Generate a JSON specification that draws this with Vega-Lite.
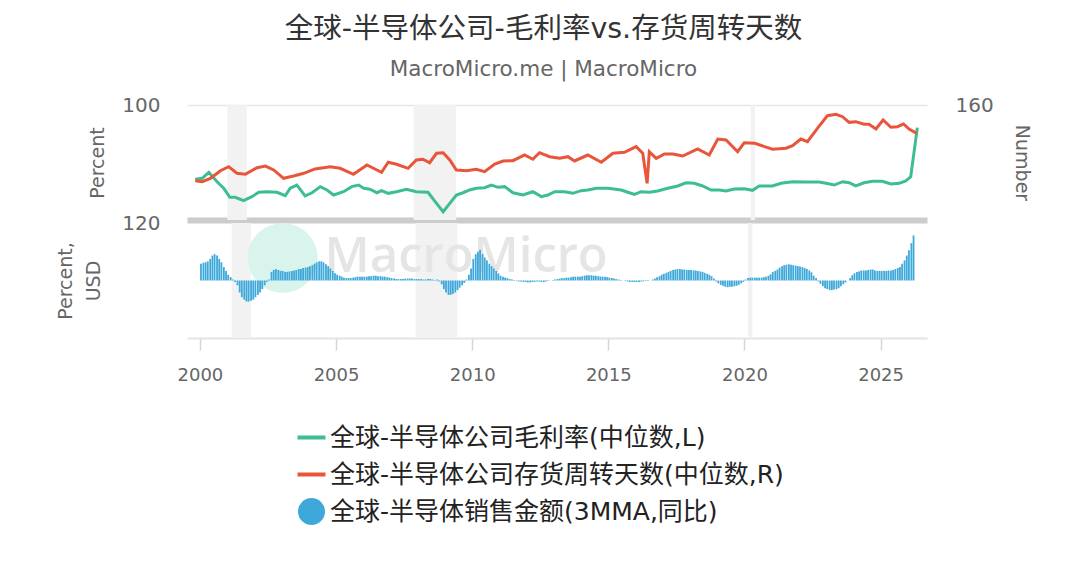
{
  "$schema": "https://vega.github.io/schema/vega-lite/v6.json",
  "background": "white",
  "padding": {"left": 56, "top": 15, "right": 10, "bottom": 10},
  "bounds": "flush",
  "spacing": 3,
  "title": {
    "text": "全球-半导体公司-毛利率vs.存货周转天数",
    "subtitle": "MacroMicro.me | MacroMicro",
    "anchor": "middle",
    "frame": "bounds",
    "font": "DejaVu Sans, Noto Sans CJK SC",
    "fontSize": 28.5,
    "fontWeight": "normal",
    "color": "#333333",
    "subtitleFont": "DejaVu Sans, Noto Sans CJK SC",
    "subtitleFontSize": 21.5,
    "subtitleColor": "#666666",
    "subtitlePadding": 15,
    "offset": 15
  },
  "datasets": {
    "rec": [
      {"t": 2001.17, "t2": 2001.88},
      {"t": 2007.92, "t2": 2009.46},
      {"t": 2020.13, "t2": 2020.29}
    ],
    "gm": [
      {"t":2000.01,"v":35.4},{"t":2000.26,"v":36.3},{"t":2000.50,"v":41.5},{"t":2000.80,"v":33.3},{"t":2001.04,"v":27.6},{"t":2001.26,"v":19.7},{"t":2001.46,"v":19.7},{"t":2001.76,"v":16.8},{"t":2002.06,"v":20.3},{"t":2002.31,"v":24.1},{"t":2002.61,"v":24.6},{"t":2002.97,"v":24.1},{"t":2003.27,"v":21.1},{"t":2003.45,"v":27.6},{"t":2003.69,"v":30.4},{"t":2003.99,"v":20.9},{"t":2004.24,"v":23.7},{"t":2004.54,"v":29.0},{"t":2004.78,"v":26.1},{"t":2005.02,"v":21.7},{"t":2005.38,"v":24.6},{"t":2005.68,"v":29.0},{"t":2005.93,"v":30.4},{"t":2006.11,"v":27.6},{"t":2006.34,"v":26.8},{"t":2006.59,"v":23.7},{"t":2006.76,"v":25.5},{"t":2007.00,"v":23.2},{"t":2007.30,"v":24.6},{"t":2007.66,"v":26.7},{"t":2008.02,"v":24.6},{"t":2008.44,"v":24.1},{"t":2008.75,"v":14.5},{"t":2008.99,"v":7.2},{"t":2009.23,"v":14.5},{"t":2009.47,"v":21.7},{"t":2009.71,"v":23.7},{"t":2009.95,"v":26.1},{"t":2010.19,"v":27.6},{"t":2010.49,"v":28.1},{"t":2010.74,"v":30.4},{"t":2010.98,"v":28.4},{"t":2011.22,"v":29.0},{"t":2011.52,"v":23.7},{"t":2011.88,"v":21.7},{"t":2012.24,"v":24.6},{"t":2012.55,"v":20.3},{"t":2012.78,"v":21.7},{"t":2013.03,"v":24.6},{"t":2013.39,"v":24.6},{"t":2013.69,"v":23.2},{"t":2013.99,"v":25.5},{"t":2014.23,"v":26.1},{"t":2014.54,"v":27.6},{"t":2014.96,"v":27.6},{"t":2015.44,"v":26.1},{"t":2015.74,"v":23.7},{"t":2015.92,"v":22.3},{"t":2016.16,"v":24.6},{"t":2016.46,"v":24.1},{"t":2016.76,"v":25.2},{"t":2017.13,"v":27.6},{"t":2017.49,"v":29.6},{"t":2017.79,"v":32.4},{"t":2018.09,"v":31.9},{"t":2018.39,"v":29.6},{"t":2018.70,"v":26.1},{"t":2019.00,"v":26.1},{"t":2019.24,"v":25.2},{"t":2019.54,"v":27.0},{"t":2019.90,"v":27.2},{"t":2020.20,"v":25.8},{"t":2020.44,"v":29.6},{"t":2020.92,"v":29.6},{"t":2021.23,"v":31.9},{"t":2021.65,"v":33.3},{"t":2022.13,"v":33.0},{"t":2022.61,"v":33.0},{"t":2022.86,"v":31.9},{"t":2023.16,"v":30.4},{"t":2023.46,"v":33.3},{"t":2023.70,"v":32.4},{"t":2023.94,"v":29.6},{"t":2024.24,"v":32.4},{"t":2024.54,"v":33.7},{"t":2024.90,"v":33.7},{"t":2025.21,"v":31.3},{"t":2025.51,"v":31.9},{"t":2025.75,"v":33.9},{"t":2025.93,"v":37.7},{"t":2026.17,"v":80.3}
    ],
    "inv": [
      {"t":2000.01,"v":54.7},{"t":2000.26,"v":53.3},{"t":2000.56,"v":58.0},{"t":2000.92,"v":68.6},{"t":2001.22,"v":74.2},{"t":2001.52,"v":65.0},{"t":2001.82,"v":63.6},{"t":2002.25,"v":72.8},{"t":2002.55,"v":75.1},{"t":2002.85,"v":69.6},{"t":2003.21,"v":58.0},{"t":2003.57,"v":61.2},{"t":2003.94,"v":65.0},{"t":2004.35,"v":71.0},{"t":2004.90,"v":74.2},{"t":2005.26,"v":71.9},{"t":2005.74,"v":63.6},{"t":2006.23,"v":76.5},{"t":2006.59,"v":69.6},{"t":2006.76,"v":66.4},{"t":2007.00,"v":80.3},{"t":2007.30,"v":77.5},{"t":2007.72,"v":71.9},{"t":2008.02,"v":83.5},{"t":2008.26,"v":84.5},{"t":2008.50,"v":79.7},{"t":2008.75,"v":92.8},{"t":2008.99,"v":93.6},{"t":2009.23,"v":83.5},{"t":2009.47,"v":69.6},{"t":2009.83,"v":68.6},{"t":2010.19,"v":70.5},{"t":2010.49,"v":67.2},{"t":2010.86,"v":77.9},{"t":2011.16,"v":82.1},{"t":2011.52,"v":82.5},{"t":2011.94,"v":90.4},{"t":2012.24,"v":84.5},{"t":2012.48,"v":93.6},{"t":2012.85,"v":88.1},{"t":2013.21,"v":85.8},{"t":2013.51,"v":88.1},{"t":2013.75,"v":82.1},{"t":2014.23,"v":90.4},{"t":2014.72,"v":80.3},{"t":2015.14,"v":92.8},{"t":2015.56,"v":94.2},{"t":2015.98,"v":102.0},{"t":2016.22,"v":92.8},{"t":2016.38,"v":51.1},{"t":2016.46,"v":95.0},{"t":2016.71,"v":85.8},{"t":2017.01,"v":91.8},{"t":2017.31,"v":91.8},{"t":2017.67,"v":89.0},{"t":2018.21,"v":98.8},{"t":2018.63,"v":90.4},{"t":2018.94,"v":112.7},{"t":2019.24,"v":111.3},{"t":2019.66,"v":95.0},{"t":2019.90,"v":107.5},{"t":2020.28,"v":106.7},{"t":2020.92,"v":98.4},{"t":2021.41,"v":99.8},{"t":2021.65,"v":103.4},{"t":2021.95,"v":112.7},{"t":2022.19,"v":108.9},{"t":2022.55,"v":127.6},{"t":2022.91,"v":145.1},{"t":2023.22,"v":147.1},{"t":2023.46,"v":143.7},{"t":2023.70,"v":135.9},{"t":2023.94,"v":136.8},{"t":2024.24,"v":133.2},{"t":2024.42,"v":133.2},{"t":2024.67,"v":126.6},{"t":2024.93,"v":139.1},{"t":2025.21,"v":129.0},{"t":2025.45,"v":129.8},{"t":2025.67,"v":133.6},{"t":2025.87,"v":126.6},{"t":2026.15,"v":120.6}
    ],
    "sales": [
      {"t":2000.04,"v":35},{"t":2000.13,"v":37},{"t":2000.21,"v":38},{"t":2000.29,"v":40},{"t":2000.38,"v":45},{"t":2000.46,"v":52},{"t":2000.54,"v":55},{"t":2000.63,"v":52},{"t":2000.71,"v":45},{"t":2000.79,"v":38},{"t":2000.88,"v":28},{"t":2000.96,"v":20},
      {"t":2001.04,"v":12},{"t":2001.13,"v":7},{"t":2001.21,"v":2},{"t":2001.29,"v":-3},{"t":2001.38,"v":-10},{"t":2001.46,"v":-25},{"t":2001.54,"v":-35},{"t":2001.63,"v":-40},{"t":2001.71,"v":-44},{"t":2001.79,"v":-44},{"t":2001.88,"v":-42},{"t":2001.96,"v":-40},
      {"t":2002.04,"v":-35},{"t":2002.13,"v":-30},{"t":2002.21,"v":-25},{"t":2002.29,"v":-18},{"t":2002.38,"v":-10},{"t":2002.46,"v":-3},{"t":2002.54,"v":2},{"t":2002.63,"v":18},{"t":2002.71,"v":22},{"t":2002.79,"v":24},{"t":2002.88,"v":22},{"t":2002.96,"v":20},
      {"t":2003.04,"v":20},{"t":2003.13,"v":18},{"t":2003.21,"v":18},{"t":2003.29,"v":19},{"t":2003.38,"v":20},{"t":2003.46,"v":21},{"t":2003.54,"v":22},{"t":2003.63,"v":24},{"t":2003.71,"v":24},{"t":2003.79,"v":26},{"t":2003.88,"v":27},{"t":2003.96,"v":28},
      {"t":2004.04,"v":30},{"t":2004.13,"v":32},{"t":2004.21,"v":35},{"t":2004.29,"v":38},{"t":2004.38,"v":40},{"t":2004.46,"v":40},{"t":2004.54,"v":38},{"t":2004.63,"v":34},{"t":2004.71,"v":30},{"t":2004.79,"v":25},{"t":2004.88,"v":20},{"t":2004.96,"v":15},
      {"t":2005.04,"v":12},{"t":2005.13,"v":10},{"t":2005.21,"v":8},{"t":2005.29,"v":6},{"t":2005.38,"v":5},{"t":2005.46,"v":5},{"t":2005.54,"v":5},{"t":2005.63,"v":6},{"t":2005.71,"v":7},{"t":2005.79,"v":8},{"t":2005.88,"v":8},{"t":2005.96,"v":8},
      {"t":2006.04,"v":8},{"t":2006.13,"v":8},{"t":2006.21,"v":9},{"t":2006.29,"v":9},{"t":2006.38,"v":10},{"t":2006.46,"v":10},{"t":2006.54,"v":9},{"t":2006.63,"v":9},{"t":2006.71,"v":8},{"t":2006.79,"v":8},{"t":2006.88,"v":7},{"t":2006.96,"v":6},
      {"t":2007.04,"v":5},{"t":2007.13,"v":4},{"t":2007.21,"v":3},{"t":2007.29,"v":3},{"t":2007.38,"v":3},{"t":2007.46,"v":3},{"t":2007.54,"v":4},{"t":2007.63,"v":4},{"t":2007.71,"v":4},{"t":2007.79,"v":4},{"t":2007.88,"v":3},{"t":2007.96,"v":3},
      {"t":2008.04,"v":3},{"t":2008.13,"v":3},{"t":2008.21,"v":2},{"t":2008.29,"v":2},{"t":2008.38,"v":3},{"t":2008.46,"v":3},{"t":2008.54,"v":2},{"t":2008.63,"v":1},{"t":2008.71,"v":2},{"t":2008.79,"v":-2},{"t":2008.88,"v":-8},{"t":2008.96,"v":-18},
      {"t":2009.04,"v":-25},{"t":2009.13,"v":-30},{"t":2009.21,"v":-30},{"t":2009.29,"v":-28},{"t":2009.38,"v":-25},{"t":2009.46,"v":-20},{"t":2009.54,"v":-15},{"t":2009.63,"v":-10},{"t":2009.71,"v":-5},{"t":2009.79,"v":2},{"t":2009.88,"v":12},{"t":2009.96,"v":25},
      {"t":2010.04,"v":45},{"t":2010.13,"v":55},{"t":2010.21,"v":60},{"t":2010.29,"v":64},{"t":2010.38,"v":55},{"t":2010.46,"v":48},{"t":2010.54,"v":42},{"t":2010.63,"v":35},{"t":2010.71,"v":30},{"t":2010.79,"v":25},{"t":2010.88,"v":20},{"t":2010.96,"v":15},
      {"t":2011.04,"v":10},{"t":2011.13,"v":8},{"t":2011.21,"v":6},{"t":2011.29,"v":5},{"t":2011.38,"v":3},{"t":2011.46,"v":2},{"t":2011.54,"v":1},{"t":2011.63,"v":-1},{"t":2011.71,"v":-2},{"t":2011.79,"v":-2},{"t":2011.88,"v":-3},{"t":2011.96,"v":-3},
      {"t":2012.04,"v":-4},{"t":2012.13,"v":-4},{"t":2012.21,"v":-3},{"t":2012.29,"v":-3},{"t":2012.38,"v":-2},{"t":2012.46,"v":-2},{"t":2012.54,"v":-3},{"t":2012.63,"v":-3},{"t":2012.71,"v":-2},{"t":2012.79,"v":-1},{"t":2012.88,"v":0},{"t":2012.96,"v":1},
      {"t":2013.04,"v":2},{"t":2013.13,"v":3},{"t":2013.21,"v":4},{"t":2013.29,"v":5},{"t":2013.38,"v":5},{"t":2013.46,"v":6},{"t":2013.54,"v":6},{"t":2013.63,"v":7},{"t":2013.71,"v":8},{"t":2013.79,"v":8},{"t":2013.88,"v":8},{"t":2013.96,"v":8},
      {"t":2014.04,"v":9},{"t":2014.13,"v":10},{"t":2014.21,"v":11},{"t":2014.29,"v":11},{"t":2014.38,"v":11},{"t":2014.46,"v":10},{"t":2014.54,"v":10},{"t":2014.63,"v":9},{"t":2014.71,"v":8},{"t":2014.79,"v":8},{"t":2014.88,"v":8},{"t":2014.96,"v":7},
      {"t":2015.04,"v":6},{"t":2015.13,"v":5},{"t":2015.21,"v":4},{"t":2015.29,"v":3},{"t":2015.38,"v":2},{"t":2015.46,"v":1},{"t":2015.54,"v":0},{"t":2015.63,"v":-1},{"t":2015.71,"v":-2},{"t":2015.79,"v":-3},{"t":2015.88,"v":-3},{"t":2015.96,"v":-3},
      {"t":2016.04,"v":-3},{"t":2016.13,"v":-3},{"t":2016.21,"v":-2},{"t":2016.29,"v":-2},{"t":2016.38,"v":-1},{"t":2016.46,"v":-1},{"t":2016.54,"v":0},{"t":2016.63,"v":2},{"t":2016.71,"v":4},{"t":2016.79,"v":7},{"t":2016.88,"v":9},{"t":2016.96,"v":12},
      {"t":2017.04,"v":14},{"t":2017.13,"v":16},{"t":2017.21,"v":18},{"t":2017.29,"v":20},{"t":2017.38,"v":22},{"t":2017.46,"v":23},{"t":2017.54,"v":24},{"t":2017.63,"v":24},{"t":2017.71,"v":23},{"t":2017.79,"v":23},{"t":2017.88,"v":22},{"t":2017.96,"v":22},
      {"t":2018.04,"v":22},{"t":2018.13,"v":21},{"t":2018.21,"v":21},{"t":2018.29,"v":20},{"t":2018.38,"v":19},{"t":2018.46,"v":18},{"t":2018.54,"v":16},{"t":2018.63,"v":14},{"t":2018.71,"v":12},{"t":2018.79,"v":9},{"t":2018.88,"v":4},{"t":2018.96,"v":-2},
      {"t":2019.04,"v":-6},{"t":2019.13,"v":-9},{"t":2019.21,"v":-11},{"t":2019.29,"v":-13},{"t":2019.38,"v":-14},{"t":2019.46,"v":-13},{"t":2019.54,"v":-13},{"t":2019.63,"v":-12},{"t":2019.71,"v":-11},{"t":2019.79,"v":-9},{"t":2019.88,"v":-6},{"t":2019.96,"v":-3},
      {"t":2020.04,"v":2},{"t":2020.13,"v":5},{"t":2020.21,"v":6},{"t":2020.29,"v":6},{"t":2020.38,"v":6},{"t":2020.46,"v":6},{"t":2020.54,"v":6},{"t":2020.63,"v":6},{"t":2020.71,"v":7},{"t":2020.79,"v":8},{"t":2020.88,"v":10},{"t":2020.96,"v":13},
      {"t":2021.04,"v":18},{"t":2021.13,"v":20},{"t":2021.21,"v":23},{"t":2021.29,"v":27},{"t":2021.38,"v":30},{"t":2021.46,"v":32},{"t":2021.54,"v":33},{"t":2021.63,"v":34},{"t":2021.71,"v":33},{"t":2021.79,"v":32},{"t":2021.88,"v":31},{"t":2021.96,"v":30},
      {"t":2022.04,"v":29},{"t":2022.13,"v":28},{"t":2022.21,"v":26},{"t":2022.29,"v":24},{"t":2022.38,"v":21},{"t":2022.46,"v":17},{"t":2022.54,"v":10},{"t":2022.63,"v":5},{"t":2022.71,"v":-2},{"t":2022.79,"v":-7},{"t":2022.88,"v":-12},{"t":2022.96,"v":-16},
      {"t":2023.04,"v":-18},{"t":2023.13,"v":-20},{"t":2023.21,"v":-20},{"t":2023.29,"v":-19},{"t":2023.38,"v":-18},{"t":2023.46,"v":-16},{"t":2023.54,"v":-12},{"t":2023.63,"v":-8},{"t":2023.71,"v":-4},{"t":2023.79,"v":0},{"t":2023.88,"v":5},{"t":2023.96,"v":11},
      {"t":2024.04,"v":15},{"t":2024.13,"v":18},{"t":2024.21,"v":19},{"t":2024.29,"v":21},{"t":2024.38,"v":21},{"t":2024.46,"v":21},{"t":2024.54,"v":22},{"t":2024.63,"v":23},{"t":2024.71,"v":23},{"t":2024.79,"v":21},{"t":2024.88,"v":20},{"t":2024.96,"v":20},
      {"t":2025.04,"v":20},{"t":2025.13,"v":20},{"t":2025.21,"v":20},{"t":2025.29,"v":21},{"t":2025.38,"v":21},{"t":2025.46,"v":22},{"t":2025.54,"v":24},{"t":2025.63,"v":26},{"t":2025.71,"v":28},{"t":2025.79,"v":35},{"t":2025.88,"v":42},{"t":2025.96,"v":52},
      {"t":2026.04,"v":63},{"t":2026.13,"v":78},{"t":2026.21,"v":94}
    ]
  },
  "vconcat": [
    {
      "width": 740,
      "height": 115,
      "layer": [
        {
          "data": {"name": "rec"},
          "mark": {"type": "rect", "color": "#f2f2f2"},
          "encoding": {
            "x": {"field": "t", "type": "quantitative", "scale": {"domain": [1999.71, 2026.52], "nice": false, "zero": false}, "axis": {"title": null, "labels": false, "ticks": false, "grid": false, "domain": true, "domainColor": "#cccccc", "domainWidth": 6}},
            "x2": {"field": "t2"}
          }
        },
        {
          "data": {"name": "gm"},
          "mark": {"type": "line", "strokeWidth": 3},
          "encoding": {
            "x": {"field": "t", "type": "quantitative", "scale": {"domain": [1999.71, 2026.52], "nice": false, "zero": false}, "axis": {"title": null, "labels": false, "ticks": false, "grid": false, "domain": true, "domainColor": "#cccccc", "domainWidth": 6}},
            "y": {
              "field": "v", "type": "quantitative",
              "scale": {"domain": [0, 100], "nice": false},
              "axis": {"values": [100], "title": "Percent", "grid": true, "gridColor": "#e6e6e6", "gridWidth": 1.5, "domain": false, "ticks": false, "labelPadding": 27, "titlePadding": 14}
            },
            "color": {
              "datum": "全球-半导体公司毛利率(中位数,L)", "type": "nominal",
              "scale": {
                "domain": ["全球-半导体公司毛利率(中位数,L)", "全球-半导体公司存货周转天数(中位数,R)", "全球-半导体销售金额(3MMA,同比)"],
                "range": ["#3dbd93", "#e9553b", "#3ea8da"]
              },
              "legend": {
                "title": null,
                "orient": "none",
                "legendX": 112,
                "legendY": 320,
                "direction": "vertical",
                "gridAlign": "all",
                "labelFont": "DejaVu Sans, Noto Sans CJK SC",
                "labelFontSize": 25,
                "labelColor": "#222222",
                "labelLimit": 800,
                "labelOffset": 6,
                "rowPadding": 10,
                "symbolSize": 784,
                "encode": {
                  "symbols": {
                    "update": {
                      "shape": {"signal": "datum.index === 2 ? 'circle' : 'stroke'"},
                      "size": {"signal": "datum.index === 2 ? 729 : 784"},
                      "fill": {"signal": "datum.index === 2 ? '#3ea8da' : 'transparent'"},
                      "stroke": {"signal": "datum.index === 0 ? '#3dbd93' : (datum.index === 1 ? '#e9553b' : 'transparent')"},
                      "strokeWidth": {"signal": "datum.index === 2 ? 0 : 4"},
                      "opacity": {"value": 1}
                    }
                  }
                }
              }
            }
          }
        },
        {
          "data": {"name": "inv"},
          "mark": {"type": "line", "strokeWidth": 3},
          "encoding": {
            "x": {"field": "t", "type": "quantitative", "scale": {"domain": [1999.71, 2026.52], "nice": false, "zero": false}, "axis": {"title": null, "labels": false, "ticks": false, "grid": false, "domain": true, "domainColor": "#cccccc", "domainWidth": 6}},
            "y": {
              "field": "v", "type": "quantitative",
              "scale": {"domain": [0, 160], "nice": false},
              "axis": {"orient": "right", "values": [160], "title": "Number", "grid": false, "domain": false, "ticks": false, "labelPadding": 28, "titlePadding": 18}
            },
            "color": {"datum": "全球-半导体公司存货周转天数(中位数,R)", "type": "nominal"}
          }
        }
      ],
      "resolve": {"scale": {"y": "independent"}}
    },
    {
      "width": 740,
      "height": 115,
      "layer": [
        {
          "data": {"name": "rec"},
          "mark": {"type": "rect", "color": "#f2f2f2"},
          "encoding": {
            "x": {"field": "t", "type": "quantitative", "scale": {"domain": [1999.71, 2026.52], "nice": false, "zero": false}, "axis": {"title": null, "values": [2000, 2005, 2010, 2015, 2020, 2025], "format": "d", "grid": false, "domain": true, "domainColor": "#e3e3e3", "domainWidth": 2, "ticks": true, "tickColor": "#d6d6d6", "tickSize": 12, "tickWidth": 1.5, "labelPadding": 16, "labelFontSize": 18}},
            "x2": {"field": "t2"}
          }
        },
        {
          "data": {"values": [{"logo": "circle"}]},
          "mark": {"type": "point", "filled": true, "size": 4900, "fill": "#d9f4ed", "opacity": 1, "strokeWidth": 0},
          "encoding": {
            "x": {"datum": 2003.04, "type": "quantitative"},
            "y": {"datum": 47, "type": "quantitative"}
          }
        },
        {
          "data": {"values": [{"logo": "text"}]},
          "mark": {"type": "text", "text": "MacroMicro", "font": "Open Sans", "fontSize": 49, "fontWeight": 600, "fill": "#e5e5e5", "baseline": "middle", "align": "center"},
          "encoding": {
            "x": {"datum": 2009.78, "type": "quantitative"},
            "y": {"datum": 50, "type": "quantitative"}
          }
        },
        {
          "data": {"name": "sales"},
          "mark": {"type": "bar", "width": 1.8},
          "encoding": {
            "x": {"field": "t", "type": "quantitative", "scale": {"domain": [1999.71, 2026.52], "nice": false, "zero": false}, "axis": {"title": null, "values": [2000, 2005, 2010, 2015, 2020, 2025], "format": "d", "grid": false, "domain": true, "domainColor": "#e3e3e3", "domainWidth": 2, "ticks": true, "tickColor": "#d6d6d6", "tickSize": 12, "tickWidth": 1.5, "labelPadding": 16, "labelFontSize": 18}},
            "y": {
              "field": "v", "type": "quantitative",
              "scale": {"domain": [-120, 120], "nice": false},
              "axis": {"values": [120], "title": ["Percent,", "USD"], "titleLineHeight": 28, "grid": false, "domain": false, "ticks": false, "labelPadding": 27, "titlePadding": 18}
            },
            "color": {"datum": "全球-半导体销售金额(3MMA,同比)", "type": "nominal"}
          }
        }
      ]
    }
  ],
  "resolve": {"scale": {"color": "shared"}},
  "config": {
    "view": {"stroke": null},
    "font": "DejaVu Sans, Noto Sans CJK SC",
    "axis": {"labelColor": "#666666", "titleColor": "#666666", "labelFontSize": 20, "titleFontSize": 19, "titleFontWeight": "normal", "labelFont": "DejaVu Sans", "titleFont": "DejaVu Sans"}
  }
}
